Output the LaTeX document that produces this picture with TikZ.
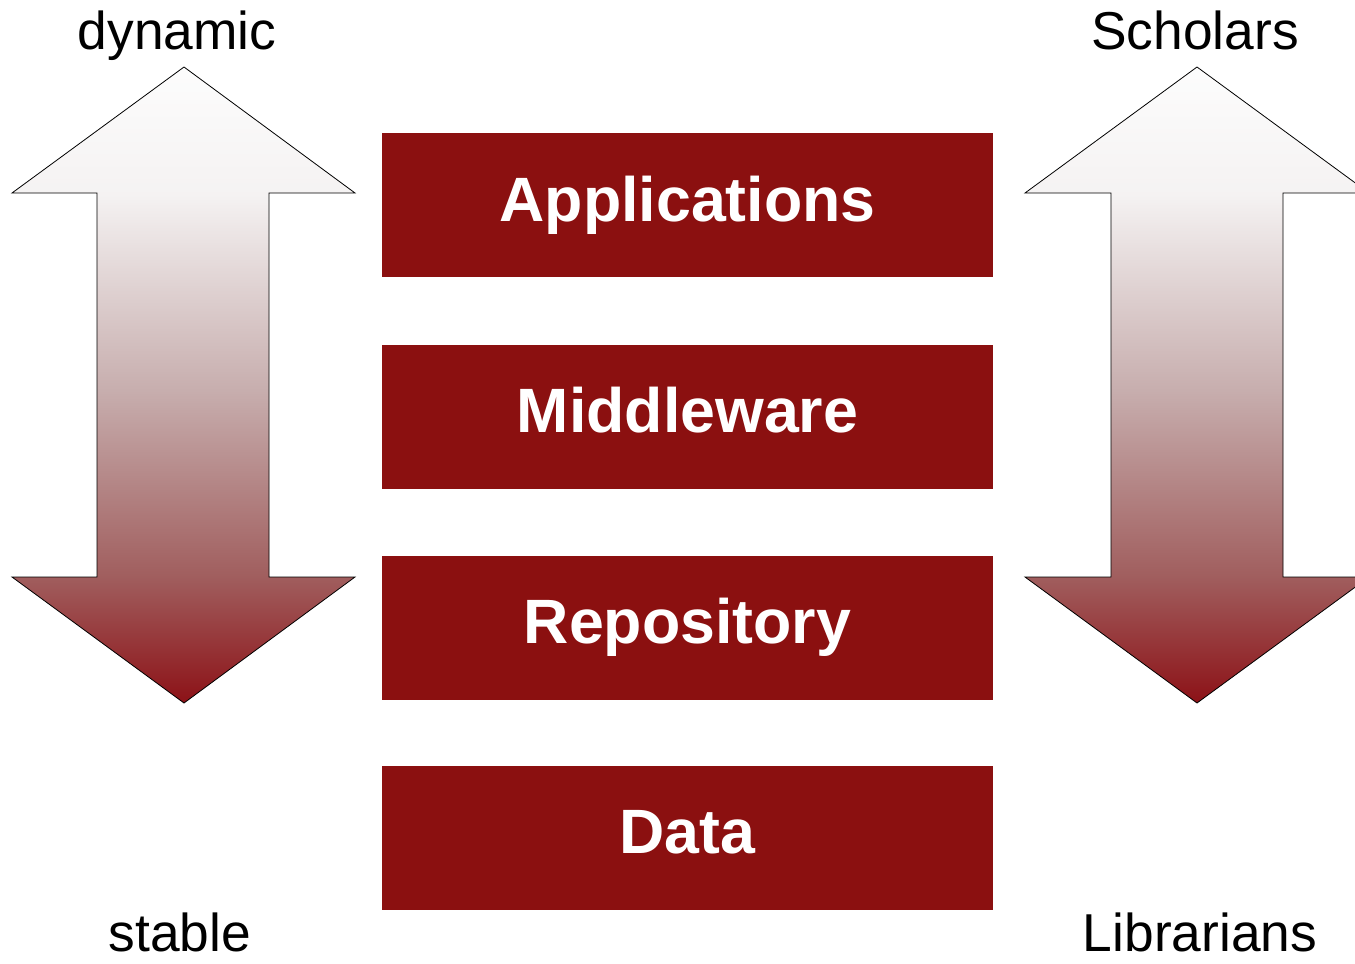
\documentclass[tikz,border=0pt]{standalone}
\usepackage{fontspec}
\setmainfont{Liberation Sans}
\definecolor{layerred}{HTML}{8B1010}
\pgfdeclareverticalshading{fade}{100bp}{rgb(0bp)=(0.55,0.07,0.09); rgb(25bp)=(0.55,0.07,0.09); rgb(35bp)=(0.63,0.37,0.37); rgb(49.5bp)=(0.78,0.68,0.68); rgb(65bp)=(0.96,0.95,0.95); rgb(75bp)=(0.99,0.99,0.99); rgb(100bp)=(0.99,0.99,0.99)}
\begin{document}
\begin{tikzpicture}[x=0.75pt, y=-0.75pt,
	layer/.style={fill=layerred, text=white, font=\fontsize{47}{50}\selectfont\bfseries, minimum width=458.25pt, minimum height=108pt, inner sep=0pt, text height=34pt, text depth=10pt},
	side/.style={font=\fontsize{40}{44}\selectfont, anchor=base, inner sep=0pt},
	bigarrow/.style={draw=black, line width=0.6pt, shading=fade}]
	\useasboundingbox (0, 0) rectangle (1355, 963);
	% double arrows
	\draw[bigarrow] (184, 67) -- (355, 193) -- (269, 193) -- (269, 577) -- (355, 577) -- (184, 703) -- (12, 577) -- (97, 577) -- (97, 193) -- (12, 193) -- cycle;
	\draw[bigarrow] (1197, 67) -- (1369, 193) -- (1283, 193) -- (1283, 577) -- (1369, 577) -- (1197, 703) -- (1025, 577) -- (1111, 577) -- (1111, 193) -- (1025, 193) -- cycle;
	% layers
	\node[layer] (app) at (687.5, 205) {Applications};
	\node[layer] (mid) at (687.5, 416.5) {Middleware};
	\node[layer] (repo) at (687.5, 627.5) {Repository};
	\node[layer] (data) at (687.5, 837.5) {Data};
	% labels
	\node[side] (dyn) at (177, 50) {dynamic};
	\node[side] (stab) at (180, 951) {stable};
	\node[side] (schol) at (1195, 50) {Scholars};
	\node[side] (libr) at (1200, 951) {Librarians};
\end{tikzpicture}
\end{document}
